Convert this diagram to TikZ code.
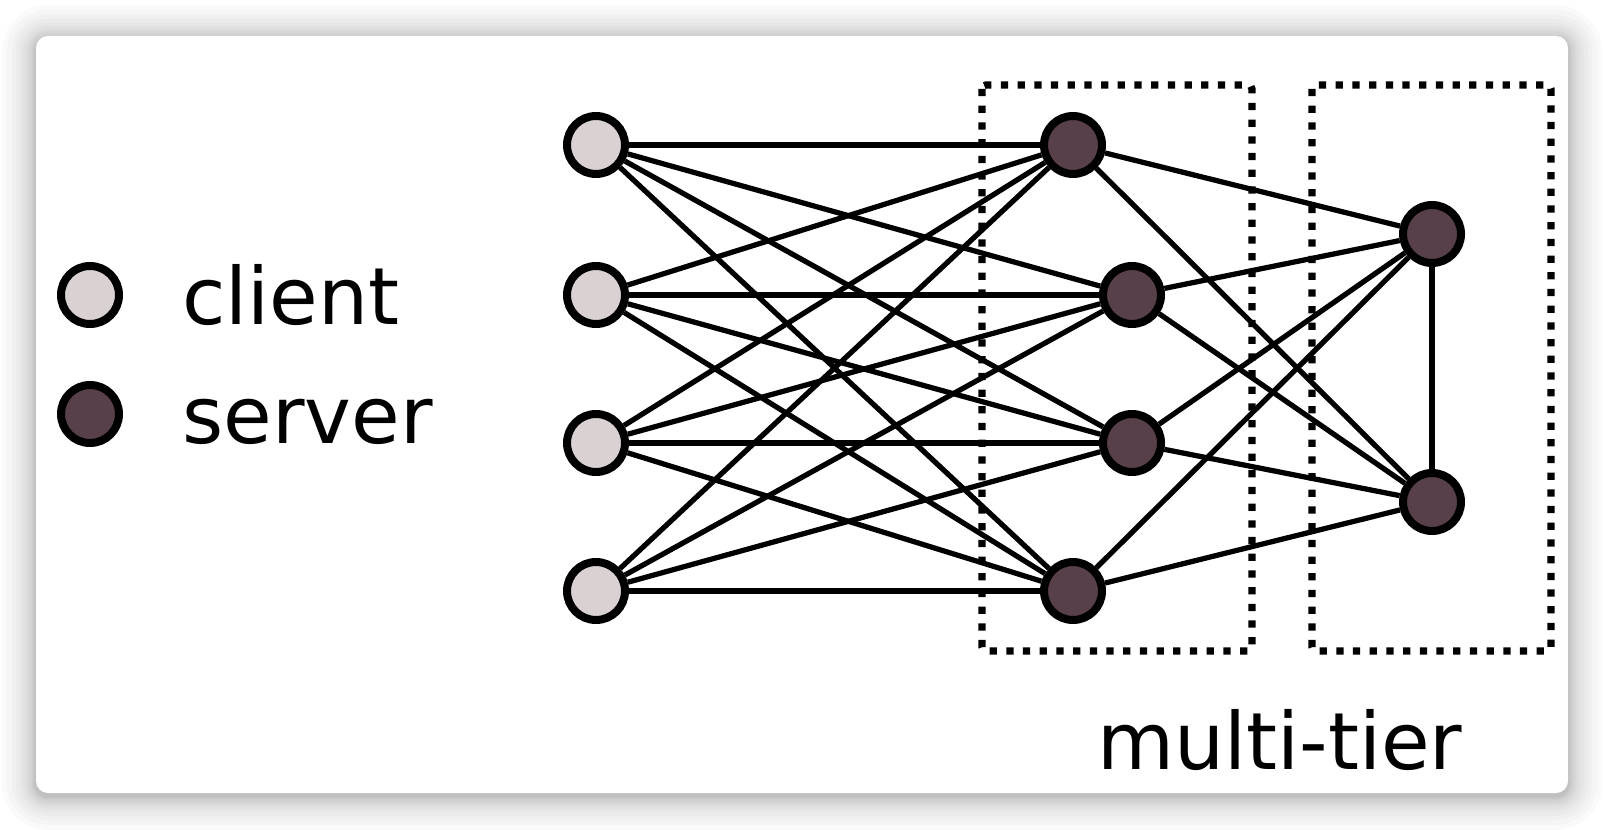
\documentclass[tikz,border=0pt]{standalone}
\usepackage{fontspec}
\setmainfont{DejaVu Sans}
\definecolor{clientfill}{HTML}{DAD2D2}
\definecolor{serverfill}{HTML}{574049}
\begin{document}
\begin{tikzpicture}[x=0.02cm, y=-0.02cm,
    client/.style={circle, draw=black, line width=1.6mm, fill=clientfill, minimum size=11.6mm, inner sep=0pt},
    server/.style={client, fill=serverfill},
    link/.style={line width=1.05mm},
    tierbox/.style={line width=1.45mm, dash pattern=on 1.45mm off 1.89mm, rounded corners=0.8mm},
    label/.style={font=\fontsize{45}{54}\selectfont, anchor=base west, inner sep=0pt}]
    \useasboundingbox (0,0) rectangle (1604,830);
    % 阴影和卡片
    \fill[white] (0,0) rectangle (1604,830);
    \foreach \r in {1,2,3,4,6,8,10,13,16,20,24,29,34}
        \fill[black, opacity=0.018, rounded corners={2.4mm+\r*0.2mm}] ({36-\r},{39-\r}) rectangle ({1568+\r},{796+\r});
    \fill[white, rounded corners=2.4mm] (36,36) rectangle (1568,793);

    % 图例
    \node[client] (keyclient) at (90,295) {};
    \node[server] (keyserver) at (90,414) {};
    \node[label] (clienttext) at (182,325) {client};
    \node[label] (servertext) at (182,444) {server};

    % 虚线框
    \draw[tierbox] (982,85) rectangle (1252,651);
    \draw[tierbox] (1312,85) rectangle (1551,651);
    \node[label, anchor=base] (tiertext) at (1280,769) {multi-tier};

    % 客户端
    \node[client] (c1) at (596,145) {};
    \node[client] (c2) at (596,295) {};
    \node[client] (c3) at (596,443) {};
    \node[client] (c4) at (596,591) {};

    % 服务器
    \node[server] (s1) at (1073,145) {};
    \node[server] (s2) at (1132,295) {};
    \node[server] (s3) at (1132,443) {};
    \node[server] (s4) at (1073,591) {};
    \node[server] (t1) at (1432,234) {};
    \node[server] (t2) at (1432,502) {};

    % 连线
    \foreach \i in {1,...,4}
        \foreach \j in {1,...,4}
            \draw[link] (c\i) -- (s\j);
    \foreach \j in {1,...,4}
        \foreach \k in {1,2}
            \draw[link] (s\j) -- (t\k);
    \draw[link] (t1) -- (t2);
\end{tikzpicture}
\end{document}
